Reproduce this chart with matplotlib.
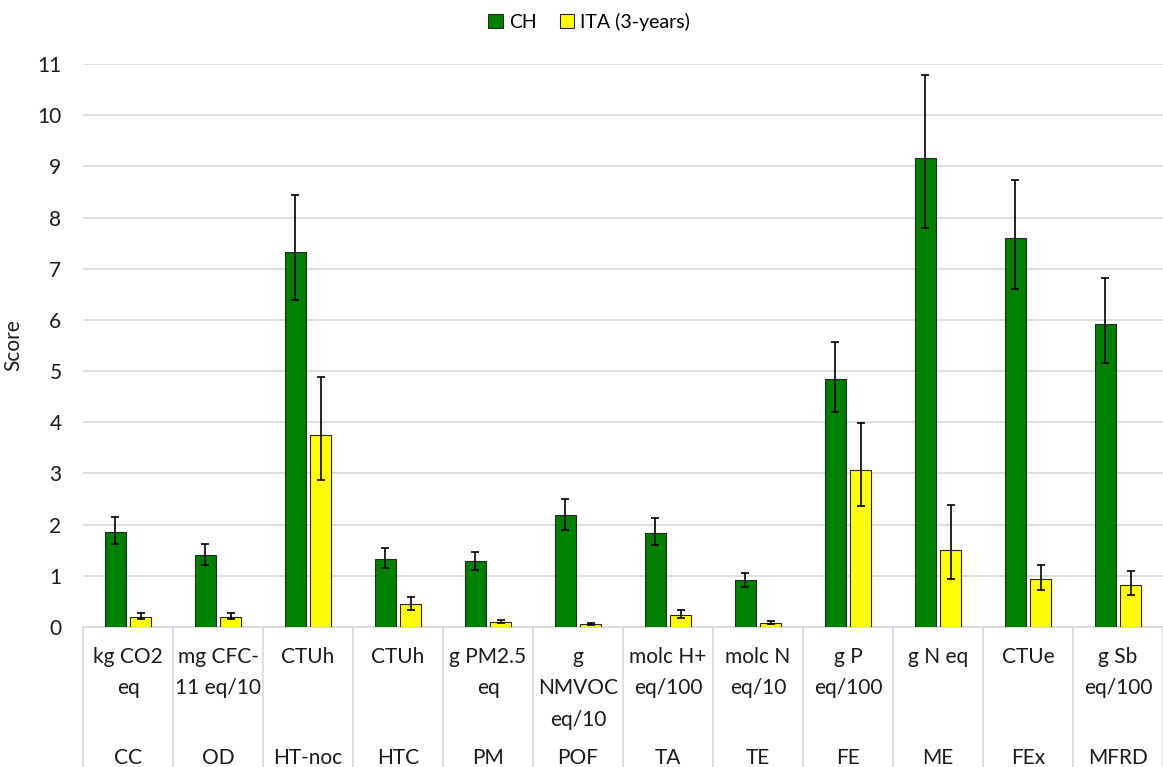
import numpy as np
import matplotlib
matplotlib.use("Agg")
import matplotlib.pyplot as plt
from matplotlib.patches import Patch
import matplotlib.transforms as mtransforms

plt.rcParams['font.family'] = ['Lato', 'DejaVu Sans']

# ── Data ────────────────────────────────────────
categories = ["CC", "OD", "HT-noc", "HTC", "PM", "POF", "TA", "TE", "FE", "ME", "FEx", "MFRD"]
units = ["kg CO2\neq", "mg CFC-\n11 eq/10", "CTUh", "CTUh", "g PM2.5\neq", "g\nNMVOC\neq/10",
         "molc H+\neq/100", "molc N\neq/10", "g P\neq/100", "g N eq", "CTUe", "g Sb\neq/100"]

ch = [1.86, 1.40, 7.33, 1.33, 1.29, 2.18, 1.84, 0.91, 4.84, 9.17, 7.60, 5.92]
ch_high = [2.15, 1.62, 8.44, 1.54, 1.47, 2.51, 2.13, 1.05, 5.57, 10.79, 8.74, 6.82]
ch_low = [1.62, 1.21, 6.38, 1.16, 1.11, 1.89, 1.60, 0.79, 4.21, 7.80, 6.60, 5.15]

ita = [0.20, 0.20, 3.75, 0.45, 0.10, 0.05, 0.24, 0.085, 3.06, 1.50, 0.93, 0.83]
ita_high = [0.27, 0.27, 4.88, 0.59, 0.13, 0.07, 0.33, 0.12, 3.98, 2.39, 1.22, 1.09]
ita_low = [0.16, 0.16, 2.88, 0.34, 0.07, 0.03, 0.18, 0.05, 2.36, 0.94, 0.72, 0.63]

green = "#008000"
yellow = "#ffff00"
grid_col = "#d9d9d9"
txt_col = "#1a1a1a"

W, H = 1163, 767
fig = plt.figure(figsize=(W / 100, H / 100), dpi=100)
ax_left, ax_bottom, ax_w, ax_h = 83, 140, 1080, 563
ax = fig.add_axes([ax_left / W, ax_bottom / H, ax_w / W, ax_h / H])

x = np.arange(len(categories)) + 0.5
bw = 0.23
off = 0.142

ch_err = [np.array(ch) - np.array(ch_low), np.array(ch_high) - np.array(ch)]
ita_err = [np.array(ita) - np.array(ita_low), np.array(ita_high) - np.array(ita)]

ekw = dict(ecolor="black", elinewidth=1.2, capsize=3, capthick=1.2)
ax.bar(x - off, ch, bw, color=green, edgecolor="#262626", linewidth=0.8,
       yerr=ch_err, error_kw=ekw, zorder=3)
ax.bar(x + off, ita, bw, color=yellow, edgecolor="#262626", linewidth=0.8,
       yerr=ita_err, error_kw=ekw, zorder=3)

ax.set_xlim(0, len(categories))
ax.set_ylim(0, 11)
ax.set_yticks(range(0, 12))
ax.tick_params(axis="y", length=0, labelsize=15, pad=15.5, colors=txt_col)
ax.tick_params(axis="x", length=0, labelbottom=False)
ax.yaxis.grid(True, color=grid_col, linewidth=1.2, zorder=0)
ax.set_axisbelow(True)
for s in ["top", "right", "left"]:
    ax.spines[s].set_visible(False)
ax.spines["bottom"].set_color(grid_col)
ax.spines["bottom"].set_linewidth(1.2)

ax.set_ylabel("Score", fontsize=15, labelpad=10, color=txt_col)

# two-level category axis with separators
trans = mtransforms.blended_transform_factory(ax.transData, ax.transAxes)
sep_bottom = -ax_bottom / ax_h
for i in range(len(categories) + 1):
    ax.plot([i, i], [0, sep_bottom], transform=trans, color=grid_col,
            linewidth=1.2, clip_on=False)
for i, (u, c) in enumerate(zip(units, categories)):
    ax.text(x[i], -0.035, u, transform=trans, ha="center", va="top",
            fontsize=15, linespacing=1.72, color=txt_col)
    ax.text(x[i], -0.233, c, transform=trans, ha="center", va="center",
            fontsize=15, color=txt_col)

handles = [Patch(facecolor=green, edgecolor="#262626", linewidth=0.8),
           Patch(facecolor=yellow, edgecolor="#262626", linewidth=0.8)]
fig.legend(handles, ["CH", "ITA (3-years)"], loc="upper center",
           bbox_to_anchor=(0.5065, 1.006), ncol=2, frameon=False, fontsize=14,
           handlelength=0.75, handleheight=0.75, handletextpad=0.3, columnspacing=1.2)

plt.savefig("out.png", dpi=100)
